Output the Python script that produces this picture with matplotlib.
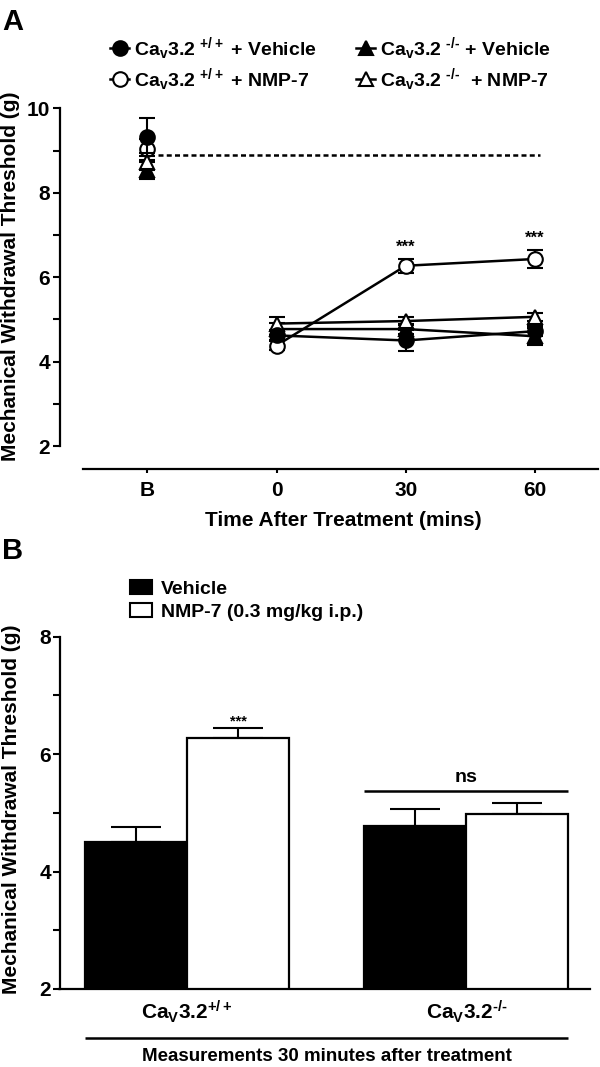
import matplotlib
matplotlib.use('Agg')
import matplotlib.pyplot as plt
from matplotlib.ticker import MultipleLocator
from matplotlib.lines import Line2D
from matplotlib.patches import Patch
import numpy as np

plt.rcParams['font.family'] = ['Liberation Sans', 'DejaVu Sans']
plt.rcParams['font.weight'] = 'bold'
plt.rcParams['mathtext.fontset'] = 'custom'
plt.rcParams['mathtext.rm'] = 'Liberation Sans:bold'
plt.rcParams['mathtext.it'] = 'Liberation Sans:bold'
plt.rcParams['mathtext.bf'] = 'Liberation Sans:bold'
plt.rcParams['mathtext.default'] = 'rm'

HY = '\u2010'

# ---------------- Panel A data ----------------
time_labels = ['B', '0', '30', '60']
wt_vehicle = [9.32, 4.62, 4.50, 4.72]
wt_vehicle_sem = [0.45, 0.12, 0.24, 0.12]
wt_nmp7 = [9.03, 4.38, 6.27, 6.43]
wt_nmp7_sem = [0.25, 0.10, 0.16, 0.21]
ko_vehicle = [8.53, 4.77, 4.77, 4.60]
ko_vehicle_sem = [0.20, 0.15, 0.12, 0.20]
ko_nmp7 = [8.73, 4.90, 4.96, 5.06]
ko_nmp7_sem = [0.20, 0.16, 0.10, 0.10]
baseline_level = 8.9
sig_a = ['', '', '***', '***']
legend_a = [r'Ca$_{v}$3.2 $^{+/+}$ + Vehicle', r'Ca$_{v}$3.2 $^{+/+}$ + NMP-7',
            r'Ca$_{v}$3.2 $^{' + HY + '/' + HY + r'}$ + Vehicle',
            r'Ca$_{v}$3.2 $^{' + HY + '/' + HY + r'}$  + NMP-7']

# ---------------- Panel B data ----------------
genotypes = [r'Ca$_{V}$3.2$^{+/+}$', r'Ca$_{V}$3.2$^{' + HY + '/' + HY + '}$']
vehicle_30 = [4.50, 4.78]
vehicle_30_sem = [0.26, 0.28]
nmp7_30 = [6.27, 4.98]
nmp7_30_sem = [0.17, 0.19]
legend_b = ['Vehicle', 'NMP-7 (0.3 mg/kg i.p.)']
ns_level = 5.37

W, H = 600, 1067
fig = plt.figure(figsize=(W / 100, H / 100), dpi=100)

def fx(px):
    return px / W

def fy(py):
    return 1 - py / H

# ================= Panel A =================
axA = fig.add_axes([fx(60), fy(446), fx(598 - 60), (446 - 108.3) / H])
xa = np.arange(len(time_labels))
series = [
    (wt_nmp7, wt_nmp7_sem, 'o', 'white'),
    (ko_vehicle, ko_vehicle_sem, '^', 'black'),
    (ko_nmp7, ko_nmp7_sem, '^', 'white'),
    (wt_vehicle, wt_vehicle_sem, 'o', 'black'),
]
style = dict(color='black', mec='black', mew=1.5, ms=10.5, elinewidth=1.5,
             capsize=5.5, capthick=1.5)
for i, (vals, sem, mk, fc) in enumerate(series):
    vals = np.asarray(vals)
    sem = np.asarray(sem)
    # baseline point (not connected)
    axA.errorbar(xa[:1], vals[:1], yerr=sem[:1], fmt='none', marker=mk, mfc=fc,
                 ls='none', zorder=3 + i, **style)
    axA.plot(xa[:1], vals[:1], ls='none', marker=mk, mfc=fc, mec='black', mew=1.5,
             ms=10.5, zorder=3.5 + i)
    # post-treatment time course
    axA.errorbar(xa[1:], vals[1:], yerr=sem[1:], fmt='-', marker=mk, mfc=fc,
                 lw=1.8, zorder=3 + i, **style)

axA.hlines(baseline_level, 0.08, 3.04, colors='black', lw=1.8,
           linestyles=(0, (2, 1.3)), zorder=2)
for xi, s, v, e in zip(xa, sig_a, wt_nmp7, wt_nmp7_sem):
    if s:
        axA.annotate(s, (xi, v + e), xytext=(0, 3), textcoords='offset points',
                     ha='center', va='bottom', fontsize=12)

axA.set_xlim(-0.6757, 3.488)
axA.set_ylim(2, 10)
axA.spines['top'].set_visible(False)
axA.spines['right'].set_visible(False)
axA.spines['left'].set_bounds(2, 10)
axA.spines['bottom'].set_position(('outward', 16.9))
axA.spines['bottom'].set_bounds(-0.495, 3.488)
for sp in ('left', 'bottom'):
    axA.spines[sp].set_linewidth(1.6)
axA.set_xticks(xa)
axA.set_xticklabels(time_labels)
axA.yaxis.set_major_locator(MultipleLocator(2))
axA.yaxis.set_minor_locator(MultipleLocator(1))
axA.tick_params(axis='y', which='both', direction='out', length=5, width=1.5,
                labelsize=15, pad=2)
axA.tick_params(axis='x', direction='out', length=3, width=1.5, labelsize=15, pad=5)

handles_a = [
    Line2D([], [], color='black', marker='o', mfc='black', mec='black', ms=10.5, lw=1.8, mew=1.5),
    Line2D([], [], color='black', marker='o', mfc='white', mec='black', ms=10.5, lw=1.8, mew=1.5),
    Line2D([], [], color='black', marker='^', mfc='black', mec='black', ms=10.5, lw=1.8, mew=1.5),
    Line2D([], [], color='black', marker='^', mfc='white', mec='black', ms=10.5, lw=1.8, mew=1.5),
]
fig.legend(handles_a, legend_a, ncol=2, loc='upper left',
           bbox_to_anchor=(fx(110), fy(35)), frameon=False, fontsize=14,
           handlelength=1.0, handletextpad=0.25, columnspacing=2.0,
           labelspacing=0.2, borderpad=0, borderaxespad=0)

fig.text(fx(2), fy(8), 'A', fontsize=21, ha='left', va='top')
fig.text(fx(11), fy(276), 'Mechanical Withdrawal Threshold (g)', rotation=90,
         ha='center', va='center', fontsize=15)
fig.text(fx(343), fy(521), 'Time After Treatment (mins)', ha='center',
         va='center', fontsize=15)

# ================= Panel B =================
axB = fig.add_axes([fx(59.5), (H - 989) / H, fx(590 - 59.5), (989 - 636.7) / H])
xb = np.arange(len(genotypes))
w = 0.365
axB.errorbar(xb - w / 2, vehicle_30, yerr=[np.zeros(2), vehicle_30_sem], fmt='none',
             ecolor='black', elinewidth=1.5, capsize=18, capthick=1.5, zorder=0.5)
axB.errorbar(xb + w / 2, nmp7_30, yerr=[np.zeros(2), nmp7_30_sem], fmt='none',
             ecolor='black', elinewidth=1.5, capsize=18, capthick=1.5, zorder=0.5)
axB.bar(xb - w / 2, vehicle_30, w, color='black', edgecolor='black', lw=1.6, zorder=1)
axB.bar(xb + w / 2, nmp7_30, w, color='white', edgecolor='black', lw=1.6, zorder=1)
axB.text(xb[0] + w / 2, nmp7_30[0] + nmp7_30_sem[0], '***', ha='center',
         va='bottom', fontsize=10.5)
axB.plot([xb[1] - w, xb[1] + w], [ns_level, ns_level], color='black', lw=1.8,
         solid_capstyle='butt')
axB.annotate('ns', (xb[1], ns_level), xytext=(0, 4), textcoords='offset points',
             ha='center', va='bottom', fontsize=14)

axB.set_xlim(-0.456, 1.442)
axB.set_ylim(2, 8)
axB.spines['top'].set_visible(False)
axB.spines['right'].set_visible(False)
for sp in ('left', 'bottom'):
    axB.spines[sp].set_linewidth(1.6)
axB.set_xticks(xb)
axB.set_xticklabels(genotypes)
axB.yaxis.set_major_locator(MultipleLocator(2))
axB.yaxis.set_minor_locator(MultipleLocator(1))
axB.tick_params(axis='y', which='both', direction='out', length=5, width=1.5,
                labelsize=15, pad=1)
axB.tick_params(axis='x', length=0, labelsize=15, pad=7)

trans = axB.get_xaxis_transform()
axB.plot([xb[0] - w, xb[-1] + w], [-0.138, -0.138], transform=trans, color='black',
         lw=1.8, clip_on=False, solid_capstyle='butt')
axB.text((xb[0] + xb[-1]) / 2, -0.192, 'Measurements 30 minutes after treatment',
         transform=trans, ha='center', va='center', fontsize=13.5)

handles_b = [Patch(facecolor='black', edgecolor='black', lw=1.5),
             Patch(facecolor='white', edgecolor='black', lw=1.5)]
fig.legend(handles_b, legend_b, loc='upper left', bbox_to_anchor=(fx(130), fy(580)),
           frameon=False, fontsize=14, handlelength=1.15, handleheight=0.7,
           handletextpad=0.45, labelspacing=0.3, borderpad=0, borderaxespad=0)

fig.text(fx(2), fy(537), 'B', fontsize=21, ha='left', va='top')
fig.text(fx(12), fy(809), 'Mechanical Withdrawal Threshold (g)', rotation=90,
         ha='center', va='center', fontsize=15)

fig.savefig('out.png', dpi=100)
